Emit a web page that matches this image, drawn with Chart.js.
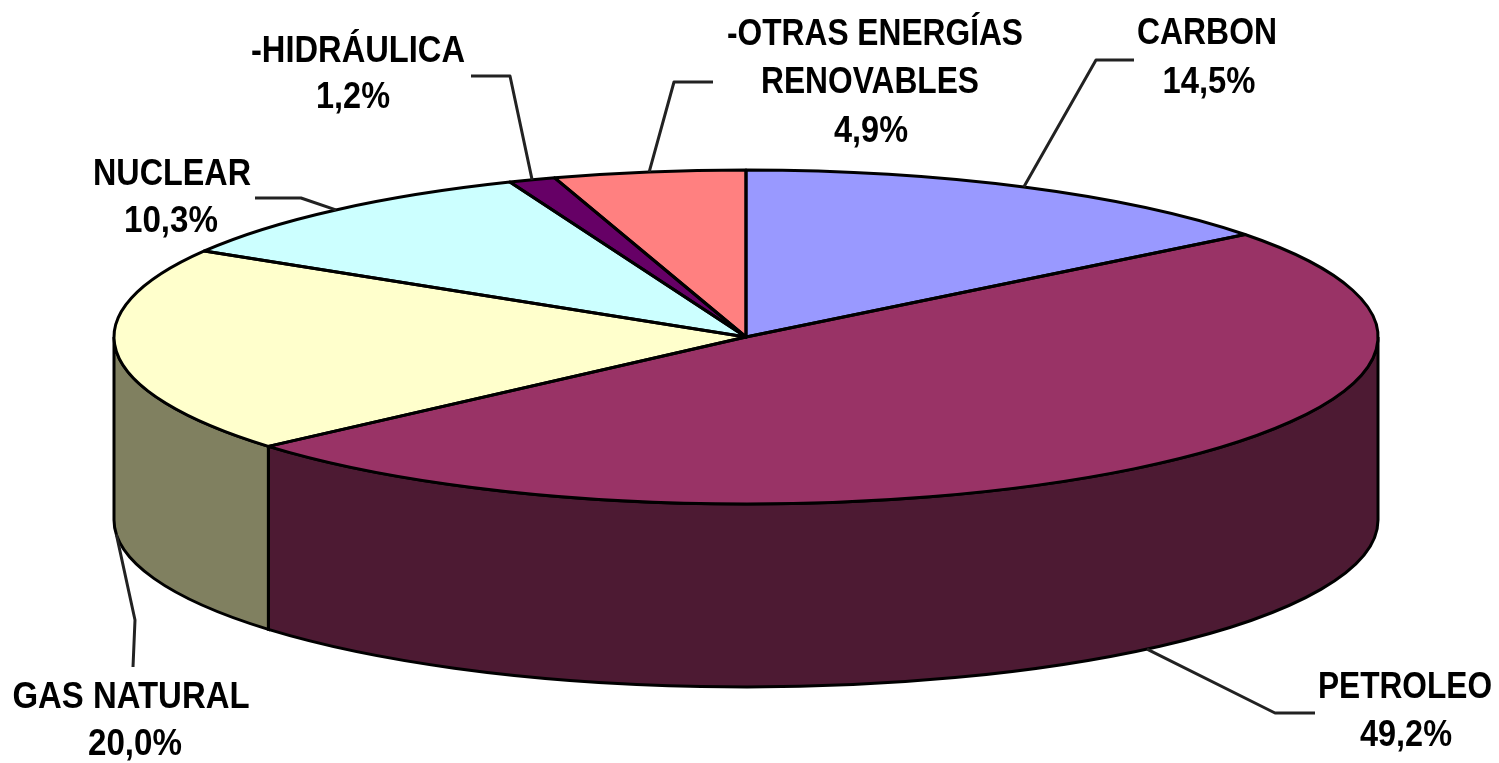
<!DOCTYPE html>
<html lang="es">
<head>
<meta charset="utf-8">
<title>Consumo de energia</title>
<script src="https://cdn.jsdelivr.net/npm/chart.js@4"></script>
<style>
    html, body { margin: 0; padding: 0; background: #fff; overflow: hidden; }
    #chart { display: block; filter: blur(0.7px); }
</style>
</head>
<body>
<canvas id="chart" width="1499" height="763"></canvas>
<script>
const categories = ['CARBON', 'PETROLEO', 'GAS NATURAL', 'NUCLEAR', '-HIDRÁULICA', '-OTRAS ENERGÍAS RENOVABLES'];
const shares = [14.5, 49.2, 20.0, 10.3, 1.2, 4.9];
const topColors = ['#9999ff', '#993366', '#ffffcc', '#ccffff', '#660066', '#ff8080'];
const wallColors = ['#4c4c80', '#4d1a33', '#808060', '#668080', '#330033', '#804040'];

// ellipse of the pie top on the page, and the height of the wall below it
const tilt = { cx: 746, cy: 337, rx: 632, ry: 167, depth: 183 };

// where each label goes: text lines with centre x, baseline y, drawn width
const labelLayout = [
    { lines: [['CARBON', 1207, 44, 140]], value: [1209, 93, 93], elbow: [[1096, 60], [1134, 60]] },
    { lines: [['PETROLEO', 1405, 698, 174]], value: [1406, 746, 92], elbow: [[1275, 713], [1315, 713]] },
    { lines: [['GAS NATURAL', 131, 708, 237]], value: [135, 755, 94], elbow: [[135, 620], [133, 667]] },
    { lines: [['NUCLEAR', 172, 185, 158]], value: [171, 232, 94], elbow: [[301, 198], [255, 198]] },
    { lines: [['-HIDRÁULICA', 358, 62, 214]], value: [353, 108, 74], elbow: [[510, 76], [471, 76]] },
    { lines: [['-OTRAS ENERGÍAS', 875, 45, 296], ['RENOVABLES', 870, 93, 218]], value: [871, 142, 74], elbow: [[674, 82], [713, 82]] }
];

const fakePie3d = {
    id: 'fakePie3d',
    beforeDatasetsDraw(chart) {
        const ctx = chart.ctx;
        const arcs = chart.getDatasetMeta(0).data;

        // walls first, only the part of each slice facing the viewer
        arcs.forEach((arc, i) => {
            const a = Math.max(arc.startAngle, 0);
            const b = Math.min(arc.endAngle, Math.PI);
            if (b <= a) return;
            ctx.beginPath();
            ctx.ellipse(tilt.cx, tilt.cy, tilt.rx, tilt.ry, 0, a, b);
            ctx.ellipse(tilt.cx, tilt.cy + tilt.depth, tilt.rx, tilt.ry, 0, b, a, true);
            ctx.closePath();
            ctx.fillStyle = wallColors[i];
            ctx.fill();
            ctx.lineWidth = 3;
            ctx.strokeStyle = '#000';
            ctx.stroke();
        });

        // squash the round pie into the top ellipse
        const first = arcs[0];
        ctx.save();
        ctx.translate(tilt.cx, tilt.cy);
        ctx.scale(tilt.rx / first.outerRadius, tilt.ry / first.outerRadius);
        ctx.translate(-first.x, -first.y);
    },
    afterDatasetsDraw(chart) {
        const ctx = chart.ctx;
        ctx.restore();

        const arcs = chart.getDatasetMeta(0).data;
        arcs.forEach((arc, i) => {
            // slice outline, stroked without the squash so the line stays even
            ctx.beginPath();
            ctx.moveTo(tilt.cx, tilt.cy);
            ctx.ellipse(tilt.cx, tilt.cy, tilt.rx, tilt.ry, 0, arc.startAngle, arc.endAngle);
            ctx.closePath();
            ctx.lineWidth = 3;
            ctx.lineJoin = 'round';
            ctx.strokeStyle = '#000';
            ctx.stroke();

            // leader starts at the middle of the slice edge
            const mid = (arc.startAngle + arc.endAngle) / 2;
            const layout = labelLayout[i];
            const sx = tilt.cx + tilt.rx * Math.cos(mid);
            let sy = tilt.cy + tilt.ry * Math.sin(mid);
            if (Math.sin(mid) > 0) sy += tilt.depth;
            ctx.beginPath();
            ctx.moveTo(sx, sy);
            layout.elbow.forEach(p => ctx.lineTo(p[0], p[1]));
            ctx.lineWidth = 3;
            ctx.strokeStyle = '#222';
            ctx.stroke();

            ctx.fillStyle = '#000';
            ctx.textAlign = 'center';
            ctx.textBaseline = 'alphabetic';
            ctx.font = 'bold 36px "Liberation Sans", Arial, sans-serif';
            layout.lines.forEach(l => ctx.fillText(l[0], l[1], l[2], l[3]));
            const text = shares[i].toFixed(1).replace('.', ',') + '%';
            ctx.fillText(text, layout.value[0], layout.value[1], layout.value[2]);
        });
    }
};

new Chart(document.getElementById('chart'), {
    type: 'pie',
    data: {
        labels: categories,
        datasets: [{
            data: shares,
            backgroundColor: topColors,
            borderWidth: 0,
            clip: false
        }]
    },
    options: {
        responsive: false,
        animation: false,
        events: [],
        layout: { padding: 0 },
        plugins: {
            legend: { display: false },
            title: { display: false },
            tooltip: { enabled: false }
        }
    },
    plugins: [fakePie3d]
});
</script>
</body>
</html>
